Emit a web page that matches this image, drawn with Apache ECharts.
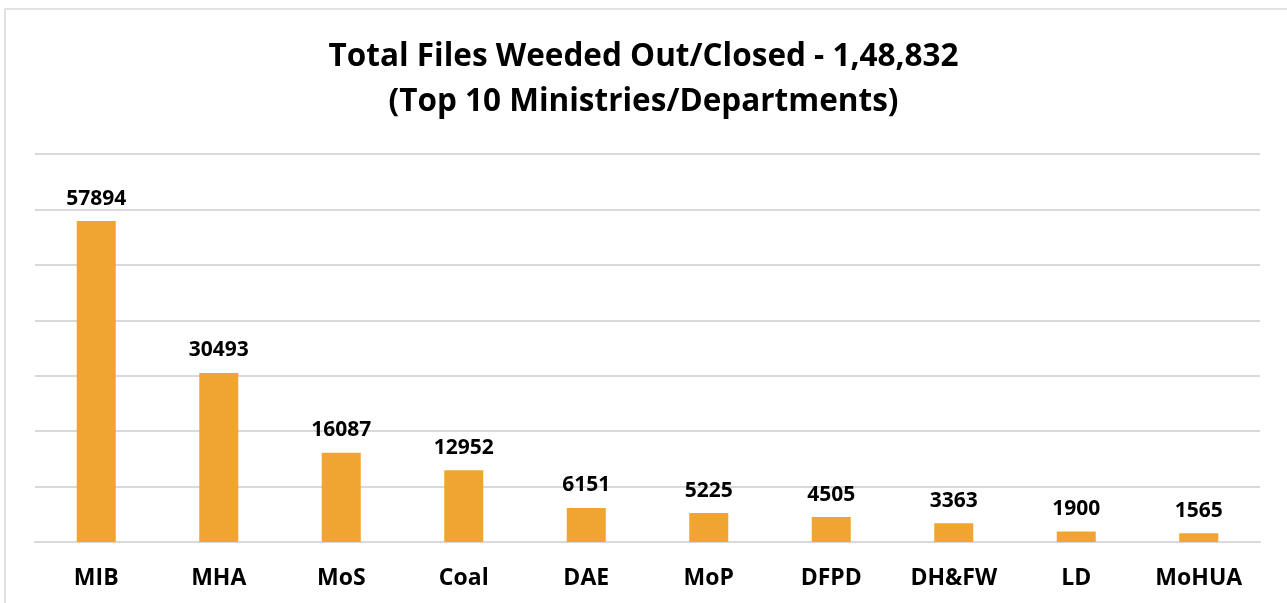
<!DOCTYPE html>
<html>
<head>
<meta charset="utf-8">
<script src="https://cdn.jsdelivr.net/npm/echarts@6/dist/echarts.min.js"></script>
<style>
  html, body { margin: 0; padding: 0; background: #fff; overflow: hidden; }
  #chart { width: 1287px; height: 603px; }
</style>
</head>
<body>
<div id="chart"></div>
<script>
// Données du graphique
const ministeres = ["MIB", "MHA", "MoS", "Coal", "DAE", "MoP", "DFPD", "DH&FW", "LD", "MoHUA"];
const fichiersFermes = [57894, 30493, 16087, 12952, 6151, 5225, 4505, 3363, 1900, 1565];
const titreLignes = ["Total Files Weeded Out/Closed - 1,48,832", "(Top 10 Ministries/Departments)"];

const chart = echarts.init(document.getElementById("chart"));

const options = {
    backgroundColor: "#fff",
    animation: false,
    title: {
        text: titreLignes.join("\n"),
        left: "center",
        top: 30,
        textStyle: {
            fontFamily: "Open Sans",
            fontWeight: "bold",
            fontSize: 31.5,
            lineHeight: 45,
            color: "#000"
        }
    },
    // cadre gris autour du graphique
    graphic: [{
        type: "rect",
        shape: { x: 5, y: 9, width: 1320, height: 700 },
        style: { fill: "none", stroke: "#d9d9d9", lineWidth: 1.5 },
        silent: true
    }],
    grid: { left: 35, top: 154, width: 1225, height: 388 },
    xAxis: {
        type: "category",
        data: ministeres,
        axisTick: { show: false },
        axisLine: { lineStyle: { color: "#d9d9d9", width: 2 } },
        axisLabel: {
            color: "#000",
            fontFamily: "Open Sans",
            fontWeight: "bold",
            fontSize: 23,
            margin: 25
        }
    },
    yAxis: {
        type: "value",
        min: 0,
        max: 70000,
        interval: 10000,
        axisLabel: { show: false },
        axisLine: { show: false },
        axisTick: { show: false },
        splitLine: { lineStyle: { color: "#d9d9d9", width: 2 } }
    },
    series: [{
        type: "bar",
        data: fichiersFermes,
        barWidth: 39,
        itemStyle: { color: "#F0A431" },
        label: {
            show: true,
            position: "top",
            distance: 12,
            color: "#000",
            fontFamily: "Open Sans",
            fontWeight: "bold",
            fontSize: 21
        }
    }]
};

chart.setOption(options);
</script>
</body>
</html>
